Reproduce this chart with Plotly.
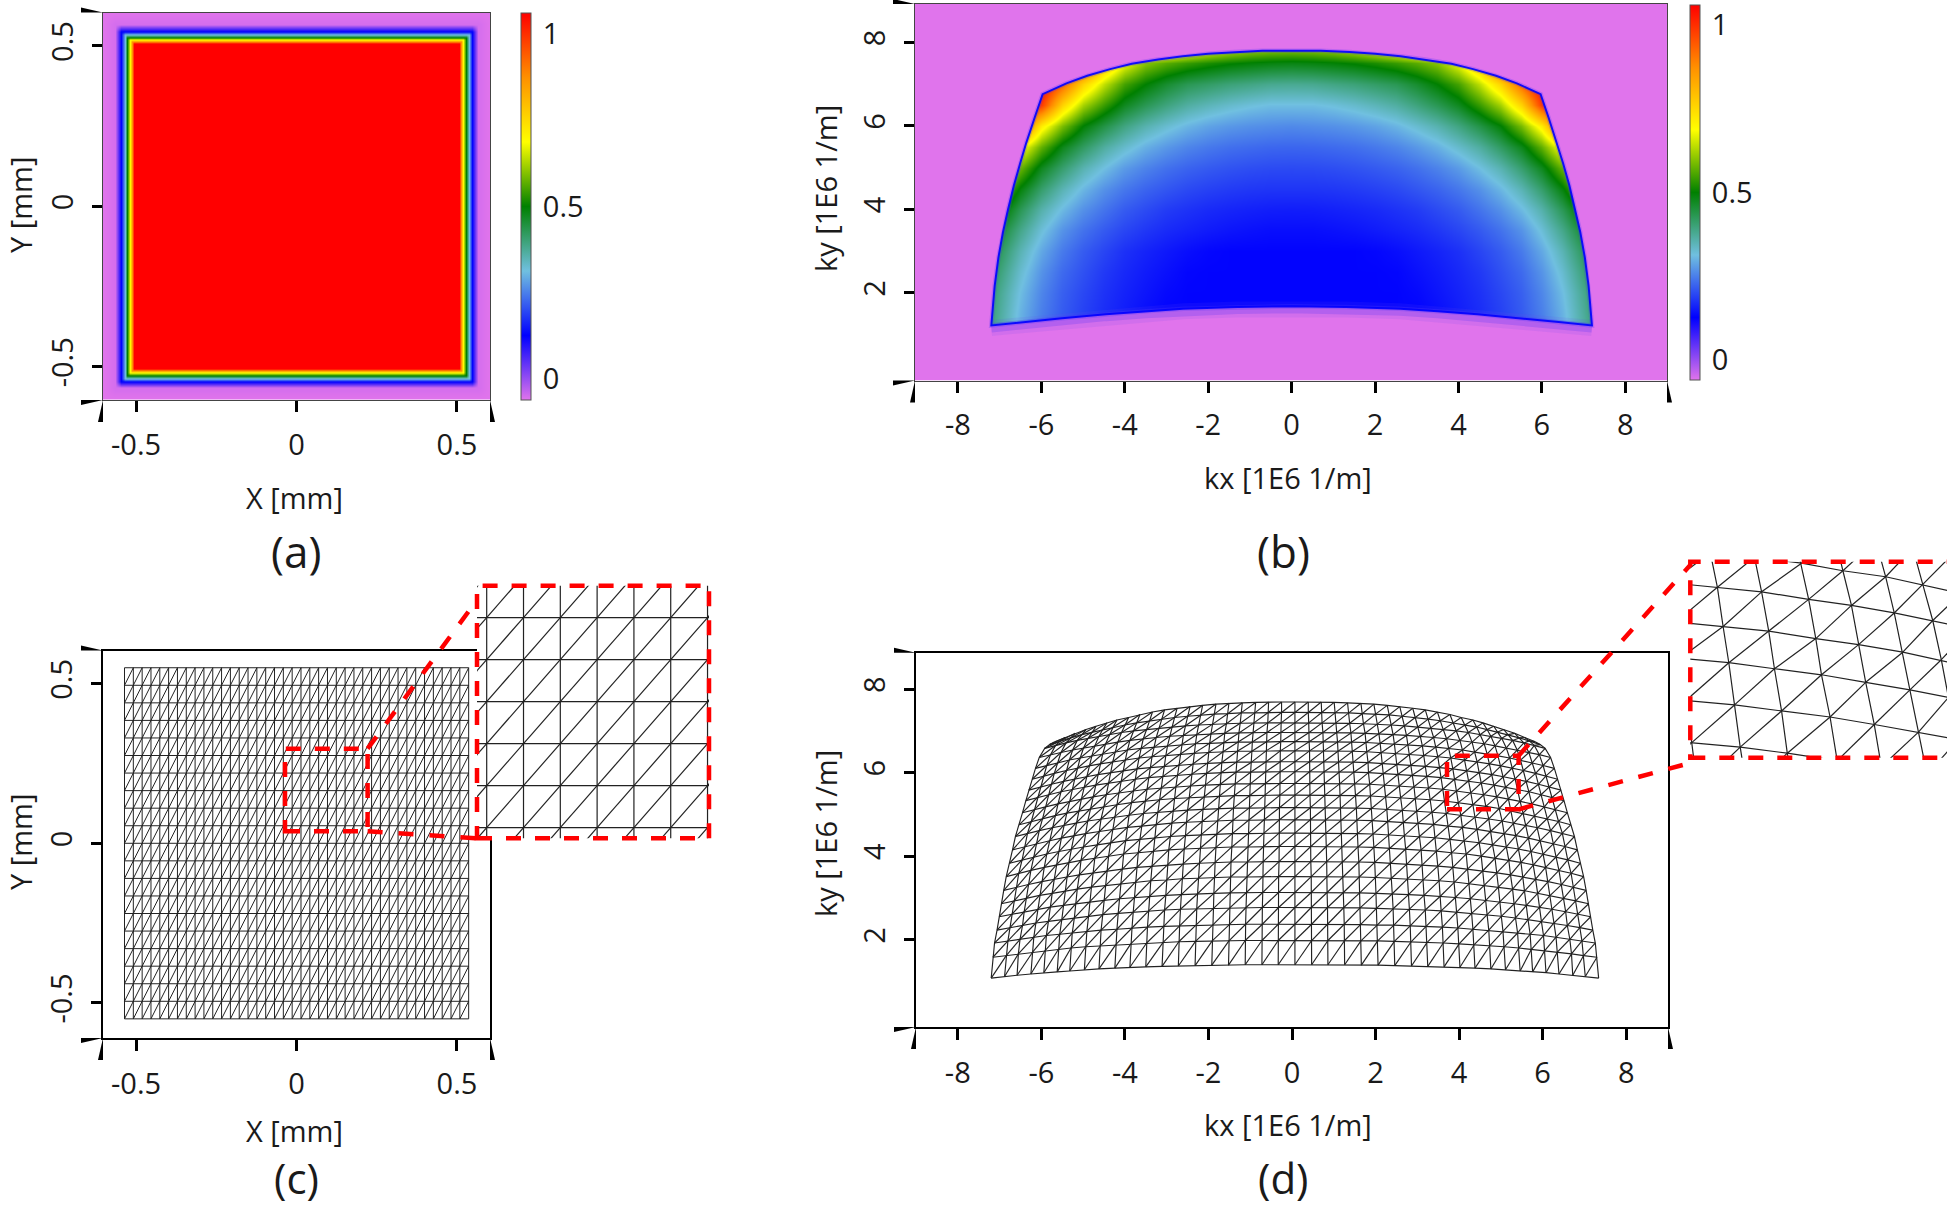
import numpy as np
import plotly.graph_objects as go

W, H = 1947, 1205
FONT = "Open Sans"
INK = "#1a1a1a"

# ---------- colour scale (value range -0.06 .. 1.06) ----------
scale_stops = [0, 1/6, 2/6, 3/6, 4/6, 5/6, 1]
scale_colors = ["#E074EC", "#0000FF", "#70C0E0", "#008000", "#FFFF00", "#FF9000", "#FF0000"]
value_min, value_max = -0.06, 1.06
bar_ticks = [0, 0.5, 1]
bar_labels = ["0", "0.5", "1"]

# ---------- panel (a): irradiance profile across the square ----------
a_nodes = [-0.6, -0.566, -0.546, -0.536, -0.5276, -0.519, -0.513, -0.506, 0,
           0.506, 0.513, 0.519, 0.5276, 0.536, 0.546, 0.566, 0.6]
a_levels = [-0.06, -0.05, 0.13, 0.31, 0.5, 0.69, 0.87, 1.06, 1.06,
            1.06, 0.87, 0.69, 0.5, 0.31, 0.13, -0.05, -0.06]
xy_ticks = [-0.5, 0, 0.5]
xy_labels = ["-0.5", "0", "0.5"]

# ---------- panel (b): sampled pupil irradiance (x >= 0 half, mirrored) ----------
b_kx_half = [0, 0.5, 1, 1.5, 2, 2.5, 3, 3.5, 4, 4.5, 5, 5.5, 6, 6.5, 7, 7.5]
b_ky = [1, 1.5, 2, 2.5, 3, 3.5, 4, 4.5, 5, 5.5, 6, 6.5, 7, 7.5, 8]
b_values = [
 [.13,.13,.13,.13,.13,.13,.13,.14,.155,.17,.19,.21,.25,.30,.36,.445],
 [.13,.13,.13,.13,.13,.13,.13,.14,.155,.17,.19,.215,.25,.30,.37,.45],
 [.13,.13,.13,.13,.13,.13,.135,.147,.16,.175,.196,.22,.257,.31,.38,.464],
 [.13,.13,.13,.13,.13,.132,.142,.153,.166,.182,.205,.23,.27,.327,.40,.49],
 [.13,.13,.13,.13,.133,.14,.15,.161,.174,.194,.216,.246,.29,.35,.426,.525],
 [.14,.14,.143,.147,.153,.16,.168,.18,.195,.214,.238,.27,.32,.385,.464,.583],
 [.155,.156,.159,.163,.168,.176,.185,.2,.216,.24,.268,.308,.358,.43,.52,.66],
 [.178,.178,.18,.184,.19,.198,.21,.224,.243,.268,.304,.35,.41,.49,.606,.78],
 [.198,.199,.202,.207,.214,.223,.236,.254,.277,.312,.352,.408,.474,.577,.727,.935],
 [.225,.226,.23,.235,.244,.256,.274,.297,.33,.366,.418,.478,.57,.70,.90,1.05],
 [.26,.263,.267,.274,.285,.302,.326,.354,.392,.44,.496,.588,.715,.95,1.05,1.06],
 [.31,.31,.318,.33,.346,.365,.395,.43,.473,.54,.62,.76,.98,1.05,1.06,1.06],
 [.378,.38,.39,.40,.415,.43,.46,.50,.55,.64,.76,.93,1.06,1.06,1.06,1.06],
 [.484,.488,.495,.505,.52,.54,.565,.60,.68,.80,1.0,1.06,1.06,1.06,1.06,1.06],
 [.657,.66,.677,.71,.76,.82,.905,.99,1.05,1.06,1.06,1.06,1.06,1.06,1.06,1.06],
]
# outline of the lit region, bottom centre -> left corner -> top centre
b_edge_kx = [0, -1.3, -2.6, -3.5, -4.45, -5.5, -6.4, -7.2, -7.16, -7.12, -7.03, -6.92, -6.80, -6.66,
             -6.51, -6.36, -6.16, -5.97, -5.4, -4.9, -4.35, -3.83, -3.2, -2.61, -2.0, -1.39, -0.7, 0]
b_edge_ky = [1.68, 1.66, 1.62, 1.56, 1.49, 1.39, 1.3, 1.22, 1.7, 2.17, 2.85, 3.46, 4.0, 4.57,
             5.1, 5.6, 6.2, 6.76, 7.02, 7.2, 7.36, 7.49, 7.59, 7.67, 7.73, 7.77, 7.8, 7.8]
k_ticks = [-8, -6, -4, -2, 0, 2, 4, 6, 8]
k_labels = ["-8", "-6", "-4", "-2", "0", "2", "4", "6", "8"]
ky_ticks = [2, 4, 6, 8]
ky_labels = ["2", "4", "6", "8"]

# ---------- panel (c): regular mesh nodes ----------
c_x_nodes = [-0.536,-0.5085,-0.481,-0.4535,-0.426,-0.3985,-0.371,-0.3435,-0.316,-0.2885,-0.261,-0.2335,
             -0.206,-0.1785,-0.151,-0.1235,-0.096,-0.0685,-0.041,-0.0135,0.014,0.0415,0.069,0.0965,
             0.124,0.1515,0.179,0.2065,0.234,0.2615,0.289,0.3165,0.344,0.3715,0.399,0.4265,0.454,
             0.4815,0.509,0.5365]
c_y_nodes = [-0.55,-0.495,-0.44,-0.385,-0.33,-0.275,-0.22,-0.165,-0.11,-0.055,0,0.055,0.11,0.165,
             0.22,0.275,0.33,0.385,0.44,0.495,0.55]

# ---------- panel (d): mapped mesh nodes, left half incl. centre column, row by row ----------
d_axis_kx = 0.07
d_kx = [
 [-7.20,-6.88,-6.58,-6.25,-5.94,-5.62,-5.32,-4.97,-4.62,-4.24,-3.88,-3.50,-3.11,-2.72,-2.32,-1.92,-1.52,-1.12,-.72,-.33,.07],
 [-7.16,-6.84,-6.55,-6.21,-5.91,-5.59,-5.29,-4.94,-4.59,-4.22,-3.86,-3.48,-3.09,-2.71,-2.31,-1.91,-1.51,-1.12,-.72,-.33,.07],
 [-7.12,-6.80,-6.51,-6.18,-5.88,-5.56,-5.26,-4.91,-4.57,-4.19,-3.83,-3.46,-3.07,-2.69,-2.30,-1.90,-1.50,-1.11,-.71,-.33,.07],
 [-7.06,-6.75,-6.45,-6.13,-5.83,-5.51,-5.21,-4.87,-4.53,-4.16,-3.80,-3.43,-3.05,-2.67,-2.28,-1.88,-1.49,-1.10,-.71,-.32,.07],
 [-7.01,-6.70,-6.41,-6.08,-5.79,-5.47,-5.18,-4.84,-4.50,-4.13,-3.77,-3.41,-3.02,-2.65,-2.26,-1.87,-1.48,-1.09,-.70,-.32,.07],
 [-6.96,-6.65,-6.36,-6.04,-5.74,-5.43,-5.14,-4.80,-4.46,-4.10,-3.75,-3.38,-3.00,-2.63,-2.24,-1.86,-1.47,-1.08,-.70,-.32,.07],
 [-6.90,-6.59,-6.31,-5.99,-5.69,-5.39,-5.09,-4.76,-4.43,-4.06,-3.71,-3.35,-2.98,-2.61,-2.22,-1.84,-1.46,-1.07,-.69,-.31,.07],
 [-6.84,-6.54,-6.25,-5.93,-5.64,-5.34,-5.05,-4.72,-4.39,-4.03,-3.68,-3.32,-2.95,-2.58,-2.20,-1.82,-1.44,-1.06,-.68,-.31,.07],
 [-6.76,-6.46,-6.18,-5.87,-5.58,-5.28,-4.99,-4.66,-4.34,-3.98,-3.64,-3.28,-2.91,-2.55,-2.18,-1.80,-1.43,-1.05,-.67,-.31,.07],
 [-6.69,-6.39,-6.12,-5.80,-5.52,-5.22,-4.94,-4.61,-4.29,-3.94,-3.60,-3.25,-2.88,-2.53,-2.15,-1.78,-1.41,-1.04,-.67,-.30,.07],
 [-6.62,-6.33,-6.05,-5.74,-5.46,-5.17,-4.89,-4.57,-4.25,-3.90,-3.56,-3.21,-2.85,-2.50,-2.13,-1.76,-1.40,-1.03,-.66,-.30,.07],
 [-6.53,-6.24,-5.97,-5.67,-5.39,-5.10,-4.82,-4.50,-4.19,-3.84,-3.51,-3.17,-2.81,-2.46,-2.10,-1.74,-1.38,-1.01,-.65,-.29,.07],
 [-6.45,-6.16,-5.90,-5.60,-5.32,-5.04,-4.76,-4.45,-4.14,-3.80,-3.47,-3.13,-2.78,-2.43,-2.08,-1.72,-1.36,-1.00,-.64,-.29,.07],
 [-6.37,-6.09,-5.82,-5.53,-5.26,-4.97,-4.70,-4.39,-4.08,-3.75,-3.43,-3.09,-2.74,-2.40,-2.05,-1.69,-1.34,-.99,-.63,-.28,.07],
 [-6.30,-6.02,-5.76,-5.47,-5.20,-4.92,-4.65,-4.34,-4.04,-3.71,-3.39,-3.06,-2.71,-2.38,-2.03,-1.68,-1.33,-.97,-.62,-.28,.07],
 [-6.22,-5.94,-5.69,-5.40,-5.13,-4.86,-4.59,-4.29,-3.99,-3.66,-3.35,-3.02,-2.68,-2.35,-2.00,-1.65,-1.31,-.96,-.62,-.28,.07],
 [-6.14,-5.87,-5.61,-5.33,-5.07,-4.79,-4.53,-4.23,-3.94,-3.61,-3.30,-2.98,-2.64,-2.31,-1.97,-1.63,-1.29,-.95,-.61,-.27,.07],
 [-6.05,-5.78,-5.53,-5.25,-4.99,-4.72,-4.46,-4.17,-3.88,-3.56,-3.25,-2.93,-2.60,-2.28,-1.94,-1.61,-1.27,-.93,-.60,-.27,.07],
 [-5.92,-5.66,-5.41,-5.14,-4.88,-4.62,-4.37,-4.08,-3.79,-3.48,-3.18,-2.87,-2.55,-2.23,-1.90,-1.57,-1.24,-.91,-.58,-.26,.07],
 [-5.80,-5.54,-5.30,-5.03,-4.78,-4.53,-4.28,-4.00,-3.72,-3.41,-3.12,-2.81,-2.50,-2.18,-1.86,-1.54,-1.22,-.89,-.57,-.25,.07],
 [-5.68,-5.43,-5.19,-4.93,-4.69,-4.43,-4.19,-3.91,-3.64,-3.34,-3.05,-2.75,-2.44,-2.14,-1.82,-1.51,-1.19,-.87,-.56,-.25,.07],
]
d_ky = [
 [1.08,1.12,1.15,1.18,1.21,1.23,1.25,1.28,1.30,1.32,1.34,1.35,1.36,1.37,1.38,1.39,1.39,1.40,1.40,1.40,1.40],
 [1.58,1.62,1.66,1.70,1.74,1.77,1.80,1.83,1.85,1.88,1.90,1.92,1.93,1.95,1.96,1.97,1.97,1.98,1.98,1.98,1.98],
 [1.92,1.97,2.01,2.06,2.10,2.13,2.16,2.20,2.23,2.25,2.28,2.30,2.32,2.33,2.35,2.35,2.36,2.37,2.37,2.37,2.37],
 [2.23,2.29,2.34,2.40,2.44,2.48,2.52,2.56,2.60,2.63,2.66,2.69,2.71,2.73,2.74,2.75,2.76,2.77,2.77,2.77,2.77],
 [2.55,2.61,2.67,2.73,2.78,2.82,2.86,2.91,2.94,2.98,3.01,3.04,3.06,3.08,3.10,3.11,3.12,3.13,3.13,3.13,3.13],
 [2.86,2.93,2.99,3.06,3.11,3.17,3.21,3.26,3.30,3.34,3.38,3.41,3.43,3.46,3.47,3.49,3.50,3.50,3.51,3.51,3.51],
 [3.18,3.26,3.32,3.39,3.45,3.50,3.55,3.60,3.65,3.69,3.73,3.76,3.79,3.81,3.83,3.85,3.86,3.86,3.87,3.87,3.87],
 [3.51,3.59,3.66,3.73,3.79,3.85,3.90,3.95,4.00,4.05,4.08,4.12,4.15,4.17,4.19,4.21,4.22,4.22,4.23,4.23,4.23],
 [3.83,3.91,3.98,4.05,4.11,4.17,4.22,4.27,4.32,4.37,4.40,4.44,4.47,4.49,4.51,4.53,4.54,4.54,4.55,4.55,4.55],
 [4.15,4.23,4.30,4.37,4.43,4.49,4.54,4.59,4.64,4.69,4.72,4.76,4.79,4.81,4.83,4.85,4.86,4.86,4.87,4.87,4.87],
 [4.47,4.55,4.61,4.68,4.74,4.79,4.84,4.89,4.94,4.98,5.02,5.05,5.08,5.10,5.12,5.14,5.15,5.15,5.16,5.16,5.16],
 [4.75,4.83,4.90,4.97,5.03,5.08,5.14,5.19,5.23,5.28,5.32,5.35,5.38,5.40,5.42,5.44,5.45,5.45,5.46,5.46,5.46],
 [5.04,5.12,5.18,5.25,5.31,5.37,5.42,5.47,5.52,5.56,5.60,5.63,5.66,5.68,5.70,5.72,5.73,5.73,5.74,5.74,5.74],
 [5.33,5.41,5.47,5.54,5.60,5.65,5.70,5.75,5.80,5.84,5.88,5.91,5.94,5.96,5.98,6.00,6.01,6.01,6.02,6.02,6.02],
 [5.58,5.66,5.72,5.79,5.85,5.90,5.95,6.00,6.04,6.09,6.12,6.15,6.18,6.20,6.22,6.24,6.25,6.25,6.26,6.26,6.26],
 [5.84,5.92,5.98,6.05,6.11,6.16,6.21,6.26,6.30,6.35,6.38,6.41,6.44,6.46,6.48,6.50,6.51,6.51,6.52,6.52,6.52],
 [6.10,6.17,6.23,6.30,6.35,6.40,6.45,6.49,6.54,6.58,6.61,6.64,6.67,6.69,6.70,6.72,6.73,6.73,6.74,6.74,6.74],
 [6.36,6.43,6.48,6.54,6.59,6.64,6.69,6.73,6.77,6.81,6.84,6.87,6.89,6.91,6.93,6.94,6.95,6.96,6.96,6.96,6.96],
 [6.58,6.65,6.71,6.77,6.82,6.87,6.91,6.96,7.00,7.03,7.07,7.09,7.12,7.14,7.16,7.17,7.18,7.19,7.19,7.19,7.19],
 [6.67,6.76,6.83,6.91,6.97,7.03,7.09,7.14,7.19,7.24,7.28,7.32,7.35,7.38,7.40,7.41,7.43,7.43,7.44,7.44,7.44],
 [6.74,6.84,6.94,7.03,7.11,7.19,7.26,7.32,7.39,7.45,7.50,7.54,7.58,7.61,7.64,7.66,7.67,7.68,7.69,7.69,7.69],
]


# ---------- helpers ----------
def px(x):
    return x / W


def py(y):
    return 1 - y / H


def colorscale():
    return [[s, c] for s, c in zip(scale_stops, scale_colors)]


def wire(xs, ys):
    """Line list for a structured triangulated mesh (rows, columns, '/' diagonals)."""
    xs, ys = np.asarray(xs), np.asarray(ys)
    ox, oy = [], []
    nj, ni = xs.shape
    for j in range(nj):
        ox += xs[j].tolist() + [None]
        oy += ys[j].tolist() + [None]
    for i in range(ni):
        ox += xs[:, i].tolist() + [None]
        oy += ys[:, i].tolist() + [None]
    for j in range(nj - 1):
        for i in range(ni - 1):
            ox += [xs[j, i], xs[j + 1, i + 1], None]
            oy += [ys[j, i], ys[j + 1, i + 1], None]
    return ox, oy


fig = go.Figure()


def axes(name, box, xr, yr, xt=None, xl=None, yt=None, yl=None, frame="#444444", fw=1, visible=True, xso=8, yso=7):
    x0, x1, y0, y1 = box
    xa = dict(domain=[px(x0), px(x1)], range=xr, anchor="y" + name, showgrid=False, zeroline=False,
              visible=visible)
    ya = dict(domain=[py(y1), py(y0)], range=yr, anchor="x" + name, showgrid=False, zeroline=False,
              visible=visible)
    if visible:
        xa.update(showline=True, mirror=True, linecolor=frame, linewidth=fw, tickmode="array", tickvals=xt,
                  ticktext=xl, ticks="outside", ticklen=11, tickwidth=3, tickcolor="black",
                  ticklabelstandoff=xso, tickfont=dict(family=FONT, size=29, color=INK))
        ya.update(showline=True, mirror=True, linecolor=frame, linewidth=fw, tickmode="array", tickvals=yt,
                  ticktext=yl, ticks="outside", ticklen=10, tickwidth=3, tickcolor="black", tickangle=-90,
                  ticklabelstandoff=yso, tickfont=dict(family=FONT, size=29, color=INK))
    fig.update_layout({"xaxis" + name: xa, "yaxis" + name: ya})
    return "x" + name, "y" + name


shapes = []


def wedges(box, x_len=22, wid=5):
    x0, x1, y0, y1 = box
    tris = [
        [(x0, y1), (x0, y1 + x_len), (x0 - wid, y1 + x_len)],
        [(x1, y1), (x1, y1 + x_len), (x1 + wid, y1 + x_len)],
        [(x0, y0), (x0 - x_len, y0), (x0 - x_len, y0 - wid)],
        [(x0, y1), (x0 - x_len, y1), (x0 - x_len, y1 + wid)],
    ]
    for t in tris:
        path = "M " + " L ".join(f"{px(a):.5f},{py(b):.5f}" for a, b in t) + " Z"
        shapes.append(dict(type="path", path=path, xref="paper", yref="paper", fillcolor="black",
                           line=dict(width=0), layer="above"))


def red_rect(x0, x1, y0, y1):
    shapes.append(dict(type="rect", x0=px(x0), x1=px(x1), y0=py(y1), y1=py(y0), xref="paper", yref="paper",
                       line=dict(color="#FF0000", width=4.5, dash="15px,14px"), layer="above"))


def red_link(x0, y0, x1, y1):
    shapes.append(dict(type="line", x0=px(x0), x1=px(x1), y0=py(y0), y1=py(y1), xref="paper", yref="paper",
                       line=dict(color="#FF0000", width=4.5, dash="15px,16px"), layer="above"))


def bar(x, y0, y1):
    return dict(x=px(x), xanchor="left", xref="paper", y=py(y0), yanchor="top", yref="paper",
                len=y1 - y0, lenmode="pixels", thickness=10, thicknessmode="pixels", xpad=0, ypad=0,
                tickmode="array", tickvals=bar_ticks, ticktext=bar_labels, ticks="outside", ticklen=6,
                tickcolor="rgba(0,0,0,0)", outlinecolor="#555555", outlinewidth=1,
                tickfont=dict(family=FONT, size=29, color=INK))


def note(text, x, y, size=29, angle=0):
    return dict(text=text, x=px(x), y=py(y), xref="paper", yref="paper", showarrow=False, xanchor="center",
                yanchor="middle", textangle=angle, font=dict(family=FONT, size=size, color=INK))


# ---------- panel (a) ----------
box_a = (103, 490, 12.5, 400)
xa, ya = axes("", box_a, [-0.603, 0.603], [-0.604, 0.604], xy_ticks, xy_labels, xy_ticks, xy_labels)
fig.add_trace(go.Heatmap(x=a_nodes, y=a_nodes, z=np.minimum.outer(a_levels, a_levels), zsmooth="best",
                         zmin=value_min, zmax=value_max, colorscale=colorscale(), hoverinfo="skip",
                         colorbar=bar(520.5, 13, 399.5), xaxis=xa, yaxis=ya))
wedges(box_a)

# ---------- panel (b) ----------
box_b = (915, 1667, 4, 380.5)
xb, yb = axes("2", box_b, [-9.03, 9.0], [-0.1, 8.92], k_ticks, k_labels, ky_ticks, ky_labels)
b_kx = [-v for v in b_kx_half[:0:-1]] + b_kx_half
b_z = [row[:0:-1] + row for row in b_values]
fig.add_trace(go.Heatmap(x=b_kx, y=b_ky, z=b_z, zsmooth="best", zmin=value_min, zmax=value_max,
                         colorscale=colorscale(), hoverinfo="skip", colorbar=bar(1689.5, 5, 380),
                         xaxis=xb, yaxis=yb))
loop_x = b_edge_kx + [-v for v in b_edge_kx[-2::-1]]
loop_y = b_edge_ky + b_edge_ky[-2::-1]
mask_x = [0, -9.03, -9.03, 9.0, 9.0, 0] + loop_x[::-1] + [0]
mask_y = [-0.1, -0.1, 8.92, 8.92, -0.1, -0.1] + loop_y[::-1] + [-0.1]
fig.add_trace(go.Scatter(x=mask_x, y=mask_y, mode="lines", fill="toself", fillcolor=scale_colors[0],
                         line=dict(width=0, color=scale_colors[0]), hoverinfo="skip", showlegend=False,
                         xaxis=xb, yaxis=yb))
low_x = [-v for v in b_edge_kx[7:0:-1]] + b_edge_kx[:8]
low_y = b_edge_ky[7:0:-1] + b_edge_ky[:8]
for width, colour in ((16, "rgba(110,70,240,0.12)"), (9, "rgba(60,40,250,0.20)")):
    fig.add_trace(go.Scatter(x=low_x, y=[v - 0.06 for v in low_y], mode="lines", line=dict(width=width, color=colour),
                             hoverinfo="skip", showlegend=False, xaxis=xb, yaxis=yb))
for width, colour in ((4.5, "rgba(70,50,250,0.25)"), (2, "rgba(0,0,255,0.9)")):
    fig.add_trace(go.Scatter(x=loop_x, y=loop_y, mode="lines", line=dict(width=width, color=colour),
                             hoverinfo="skip", showlegend=False, xaxis=xb, yaxis=yb))
wedges(box_b)

# ---------- panel (c) ----------
box_c = (103, 490, 650.5, 1038)
xc, yc = axes("3", box_c, [-0.603, 0.603], [-0.61, 0.604], xy_ticks, xy_labels, xy_ticks, xy_labels,
              frame="black", fw=2)
mx, my = np.meshgrid(c_x_nodes, c_y_nodes)
cx, cy = wire(mx, my)
fig.add_trace(go.Scatter(x=cx, y=cy, mode="lines", line=dict(width=1, color="#222222"), hoverinfo="skip",
                         showlegend=False, xaxis=xc, yaxis=yc))
wedges(box_c)

# inset of (c)
xci, yci = axes("4", (477, 709, 585.7, 838.3), [0.00675, 0.1801], [0.0411, 0.3717], visible=False)
fig.add_trace(go.Scatter(x=cx, y=cy, mode="lines", line=dict(width=1.2, color="#222222"), hoverinfo="skip",
                         showlegend=False, xaxis=xci, yaxis=yci))

# ---------- panel (d) ----------
box_d = (916, 1668, 652.7, 1027)
xd, yd = axes("5", box_d, [-9.0, 9.0], [-0.09, 8.87], k_ticks, k_labels, ky_ticks, ky_labels, frame="black", fw=2)
full_x = [row + [2 * d_axis_kx - v for v in row[-2::-1]] for row in d_kx]
full_y = [row + row[-2::-1] for row in d_ky]
dx, dy = wire(full_x, full_y)
fig.add_trace(go.Scatter(x=dx, y=dy, mode="lines", line=dict(width=1.15, color="#222222"), hoverinfo="skip",
                         showlegend=False, xaxis=xd, yaxis=yd))
wedges(box_d)

# inset of (d)
xdi, ydi = axes("6", (1690.3, 1947, 561.7, 757.7), [3.3, 5.1], [5.25, 6.55], visible=False)
fig.add_trace(go.Scatter(x=dx, y=dy, mode="lines", line=dict(width=1.2, color="#222222"), hoverinfo="skip",
                         showlegend=False, xaxis=xdi, yaxis=ydi))

# ---------- red call-outs ----------
red_rect(285, 367.6, 748.7, 831.3)
red_rect(477, 709, 585.7, 838.3)
red_link(367.6, 748.7, 477, 600)
red_link(367.6, 831.3, 477, 838.3)
red_rect(1447, 1518.6, 755.7, 809.3)
red_rect(1690.3, 1960, 561.7, 757.7)
red_link(1518.6, 755.7, 1690.3, 565)
red_link(1518.6, 809.3, 1690.3, 763)

# ---------- text ----------
notes = [
    note("X [mm]", 294, 497), note("Y [mm]", 20, 205, angle=-90),
    note("kx [1E6 1/m]", 1288, 478), note("ky [1E6 1/m]", 825, 189, angle=-90),
    note("X [mm]", 294, 1130), note("Y [mm]", 20, 842, angle=-90),
    note("kx [1E6 1/m]", 1288, 1124), note("ky [1E6 1/m]", 825, 834, angle=-90),
    note("(a)", 296, 551, 44), note("(b)", 1283, 551, 44),
    note("(c)", 296, 1177, 42), note("(d)", 1283, 1177, 42),
]

fig.update_layout(width=W, height=H, autosize=False, margin=dict(l=0, r=0, t=0, b=0, pad=0),
                  paper_bgcolor="white", plot_bgcolor="white", showlegend=False,
                  shapes=shapes, annotations=notes)
fig.write_html("out.html", config=dict(displayModeBar=False),
               post_script="document.body.style.margin='0';document.body.style.overflow='hidden';")
